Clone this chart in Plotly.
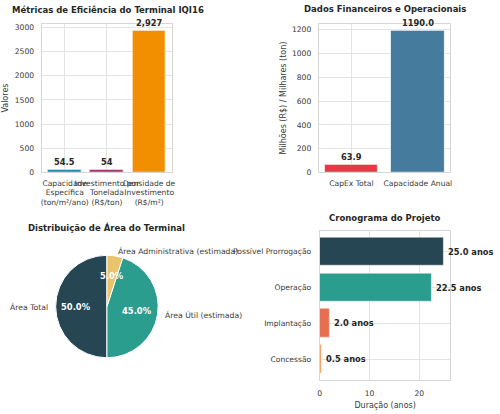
import math
import plotly.graph_objects as go

# ---------------- data ----------------
metric_labels = ["Capacidade<br>Específica<br>(ton/m²/ano)",
                 "Investimento por<br>Tonelada<br>(R$/ton)",
                 "Densidade de<br>Investimento<br>(R$/m²)"]
metric_values = [54.5, 54, 2927]
metric_text = ["54.5", "54", "2,927"]
metric_colors = ["#2E86AB", "#A23B72", "#F18F01"]

fin_labels = ["CapEx Total", "Capacidade Anual"]
fin_values = [63.9, 1190.0]
fin_colors = ["#E63946", "#457B9D"]

area_labels = ["Área Total", "Área Útil (estimada)", "Área Administrativa (estimada)"]
area_values = [50.0, 45.0, 5.0]
area_colors = ["#264653", "#2A9D8F", "#E9C46A"]

phase_labels = ["Concessão", "Implantação", "Operação", "Possível Prorrogação"]
phase_values = [0.5, 2.0, 22.5, 25.0]
phase_colors = ["#F4A261", "#E76F51", "#2A9D8F", "#264653"]

# ---------------- style ----------------
W, H = 500, 414
FONT = "DejaVu Sans"
TXT = "#262626"
TICK = "#3a3a3a"
GRID = "#e3e3e3"
SPINE = "#d6d6d6"
TICK_SIZE = 7.6
VAL_SIZE = 8.3
TITLE_SIZE = 8.5
AXT_SIZE = 8

def px(x):
    return x / W

def py(y):
    return 1 - y / H

fig = go.Figure()
annotations = []

# Top-left bars
fig.add_trace(go.Bar(
    x=list(range(len(metric_values))), y=metric_values, width=0.8,
    marker=dict(color=metric_colors, line=dict(color="white", width=0.8)),
    xaxis="x", yaxis="y", showlegend=False))
for i, (v, t) in enumerate(zip(metric_values, metric_text)):
    annotations.append(dict(x=i, y=v, xref="x", yref="y", text=t, showarrow=False,
                            xanchor="center", yanchor="bottom", yshift=1,
                            font=dict(family=FONT, size=VAL_SIZE, color=TXT, weight="bold")))

# Top-right bars
fig.add_trace(go.Bar(
    x=list(range(len(fin_values))), y=fin_values, width=0.8,
    marker=dict(color=fin_colors, line=dict(color="white", width=0.8)),
    xaxis="x2", yaxis="y2", showlegend=False))
for i, v in enumerate(fin_values):
    annotations.append(dict(x=i, y=v, xref="x2", yref="y2", text=f"{v:.1f}", showarrow=False,
                            xanchor="center", yanchor="bottom", yshift=1,
                            font=dict(family=FONT, size=VAL_SIZE, color=TXT, weight="bold")))

# Bottom-right horizontal bars
fig.add_trace(go.Bar(
    y=list(range(len(phase_values))), x=phase_values, width=0.8, orientation="h",
    marker=dict(color=phase_colors, line=dict(color="rgba(255,255,255,0.6)", width=0.8)),
    xaxis="x3", yaxis="y3", showlegend=False))
for i, v in enumerate(phase_values):
    annotations.append(dict(x=v, y=i, xref="x3", yref="y3", text=f"{v:.1f} anos", showarrow=False,
                            xanchor="left", yanchor="middle", xshift=2,
                            font=dict(family=FONT, size=VAL_SIZE, color=TXT, weight="bold")))

# Pie
PCX, PCY, PR = 106, 310, 52
fig.add_trace(go.Pie(
    labels=area_labels, values=area_values, sort=False,
    direction="counterclockwise", rotation=180,
    marker=dict(colors=area_colors, line=dict(color="white", width=1)),
    textinfo="none", hoverinfo="label+percent",
    domain=dict(x=[px(PCX - PR), px(PCX + PR)], y=[py(PCY + PR), py(PCY - PR)]),
    showlegend=False))

total = sum(area_values)
cum = 0.0
for lab, v in zip(area_labels, area_values):
    a1 = 90 + 360 * cum / total
    cum += v
    a2 = 90 + 360 * cum / total
    mid = math.radians((a1 + a2) / 2)
    c, s = math.cos(mid), math.sin(mid)
    lx, ly = PCX + 1.1 * PR * c, PCY - 1.1 * PR * s
    annotations.append(dict(
        x=px(lx), y=py(ly), xref="paper", yref="paper", text=lab,
        showarrow=False, xanchor="left" if c > 0 else "right", yanchor="middle",
        font=dict(family=FONT, size=7.7, color=TICK)))
    tx, ty = PCX + 0.6 * PR * c, PCY - 0.6 * PR * s
    annotations.append(dict(
        x=px(tx), y=py(ty), xref="paper", yref="paper",
        text=f"{100 * v / total:.1f}%", showarrow=False,
        xanchor="center", yanchor="middle",
        font=dict(family=FONT, size=8.4, color="white", weight="bold")))

# Titles
titles = [("Métricas de Eficiência do Terminal IQI16", 107, 9),
          ("Dados Financeiros e Operacionais", 387, 8),
          ("Distribuição de Área do Terminal", 106, 230),
          ("Cronograma do Projeto", 387, 220)]
for t, x, y in titles:
    annotations.append(dict(
        x=px(x), y=py(y), xref="paper", yref="paper", text=t, showarrow=False,
        xanchor="center", yanchor="middle",
        font=dict(family=FONT, size=TITLE_SIZE, color=TXT, weight="bold")))

axis_common = dict(
    showgrid=True, gridcolor=GRID, gridwidth=1, zeroline=False,
    showline=True, linecolor=SPINE, linewidth=1, mirror=True,
    ticks="outside", ticklen=3, tickcolor="rgba(0,0,0,0)",
    tickfont=dict(family=FONT, size=TICK_SIZE, color=TICK),
)

def axt(text, standoff):
    return dict(text=text, font=dict(family=FONT, size=AXT_SIZE, color=TICK), standoff=standoff)

fig.update_layout(
    width=W, height=H, margin=dict(l=0, r=0, t=0, b=0),
    paper_bgcolor="white", plot_bgcolor="white",
    font=dict(family=FONT, color=TICK),
    annotations=annotations,
    xaxis=dict(axis_common, domain=[px(40), px(172)], range=[-0.548, 2.548],
               tickmode="array", tickvals=list(range(len(metric_labels))), ticktext=metric_labels,
               tickangle=0, anchor="y"),
    yaxis=dict(axis_common, domain=[py(174), py(23)], range=[0, 3073.35],
               tickvals=[0, 500, 1000, 1500, 2000, 2500, 3000], ticklen=5,
               title=axt("Valores", 4), anchor="x"),
    xaxis2=dict(axis_common, domain=[px(320), px(453)], range=[-0.49, 1.49],
                tickmode="array", tickvals=list(range(len(fin_labels))), ticktext=fin_labels,
                tickangle=0, anchor="y2"),
    yaxis2=dict(axis_common, domain=[py(174), py(23)], range=[0, 1249.5],
                tickvals=[0, 200, 400, 600, 800, 1000, 1200], ticklen=5,
                title=axt("Milhões (R$) / Milhares (ton)", 4), anchor="x2"),
    xaxis3=dict(axis_common, domain=[px(321), px(453)], range=[0, 26.25],
                tickvals=[0, 10, 20], ticklen=5,
                title=axt("Duração (anos)", 5), anchor="y3"),
    yaxis3=dict(axis_common, domain=[py(385), py(233)], range=[-0.59, 3.59],
                tickmode="array", tickvals=list(range(len(phase_labels))), ticktext=phase_labels,
                ticklen=6, anchor="x3"),
    bargap=0,
)

fig.write_html("out.html")
